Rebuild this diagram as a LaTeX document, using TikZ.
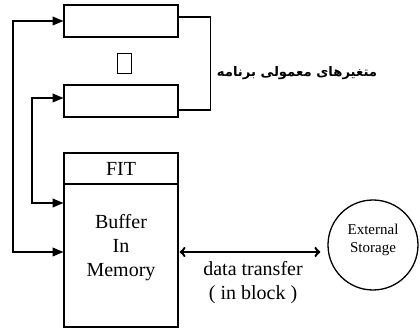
\documentclass[tikz,border=0pt]{standalone}
\usepackage{fontspec}
\setmainfont{Liberation Serif}
\newfontfamily\arabicfont[Script=Arabic]{DejaVu Sans}
\TeXXeTstate=1
\usetikzlibrary{arrows}

\begin{document}
\begin{tikzpicture}[x=1pt,y=-1pt,>=latex,thick,
                    var box/.style={rectangle,draw,line width=1.3pt,minimum width=114pt,minimum height=32pt},
                    flow/.style={<->,line width=1.5pt},
                    main text/.style={font=\fontsize{20}{24}\selectfont,align=center}]
  \useasboundingbox (0,0) rectangle (420,328);
  % program variables
  \node[var box] (var1) at (121,21) {};
  \node[draw,line width=0.8pt,minimum width=14pt,minimum height=20pt,inner sep=0pt] (gap) at (124,63) {};
  \node[var box] (var2) at (121,101) {};
  \node[font=\arabicfont\bfseries\fontsize{13.2}{15}\selectfont] (vars) at (297,73) {\beginR متغیرهای معمولی برنامه\endR};
  \draw[line width=1.3pt] ([yshift=4pt]var1.east) -- ++(32,0) |- ([yshift=-9pt]var2.east);
  % buffer
  \node[rectangle,draw,line width=1.3pt,minimum width=114pt,minimum height=174pt] (buffer) at (121,240) {};
  \draw[line width=1.3pt] (64,184) -- (178,184);
  \node[main text] (fit) at (121,169) {FIT};
  \node[main text] (buftext) at (121,248) {Buffer\\In\\Memory};
  \node[circle,draw,line width=1.3pt,minimum size=90pt,inner sep=0pt] (storage) at (373,245) {};
  \node[font=\fontsize{15}{18}\selectfont,align=center] (stortext) at (373,240) {External\\Storage};
  \coordinate (outer) at (13,0);
  \coordinate (inner) at (32,0);
  \draw[flow,>=triangle 45] (var1.west) -- (var1.west -| outer) -- ([yshift=-12pt]buffer.west -| outer) -- ([yshift=-12pt]buffer.west);
  \draw[flow,>=triangle 45] ([yshift=3pt]var2.west) -- ([yshift=3pt]var2.west -| inner) -- ([yshift=37pt]buffer.west -| inner) -- ([yshift=37pt]buffer.west);
  \draw[<->,>=to,line width=2.5pt,shorten >=7pt,shorten <=1pt] ([yshift=-12pt]buffer.east) -- ([yshift=-12pt]buffer.east -| storage.west)
    node[midway,below=5pt,main text] {data transfer\\( in block )};
\end{tikzpicture}
\end{document}
